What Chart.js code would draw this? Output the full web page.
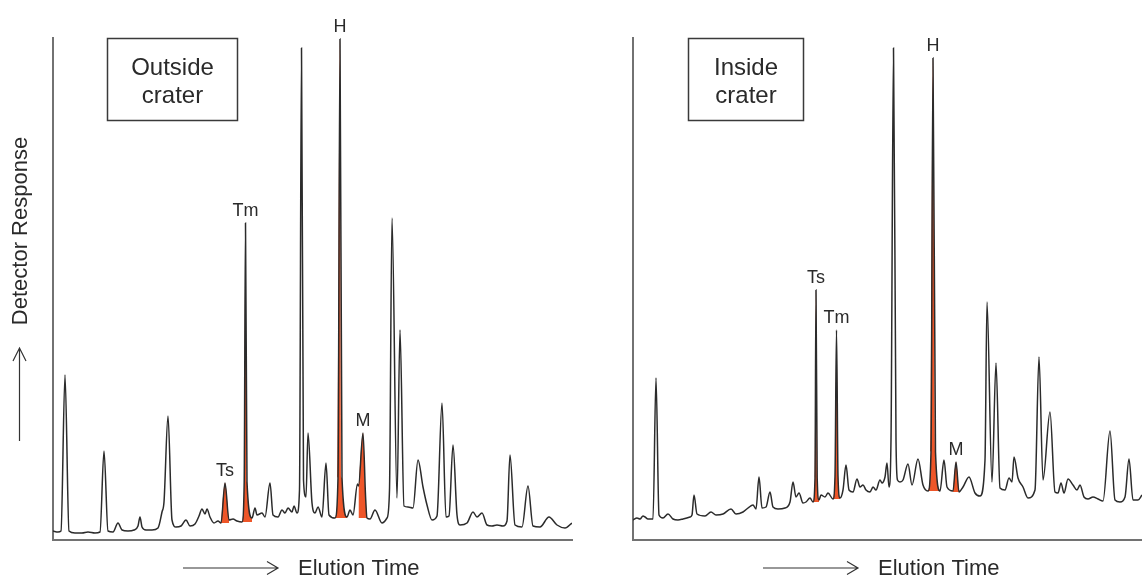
<!DOCTYPE html>
<html>
<head>
<meta charset="utf-8">
<script src="https://cdn.jsdelivr.net/npm/chart.js@4.4.0/dist/chart.umd.min.js"></script>
<style>
body { margin: 0; background: #fff; }
#wrap { position: relative; width: 1142px; height: 578px; overflow: hidden; }
canvas { position: absolute; top: 0; }
#outside { left: 0; }
#inside { left: 600px; }
</style>
</head>
<body>
<div id="wrap">
<canvas id="outside" width="600" height="578"></canvas>
<canvas id="inside" width="542" height="578"></canvas>
</div>
<script>
// trace (arbitrary time / response units)
var outsideTime = [0, 5, 8, 12, 16, 22, 29, 35, 42, 47, 51, 55, 60, 65, 69, 75, 81, 85, 87, 89,
    93, 99, 105, 109, 111, 115, 119, 123, 128, 133, 137, 142, 146, 149, 152, 154, 157, 161, 165, 168,
    172, 176, 180, 184, 189, 191.2, 192.5, 194, 199, 202, 204, 209, 212, 217, 220, 225, 229, 232, 235, 239,
    241, 244, 246.5, 248.5, 250.5, 253, 255, 259, 262, 265, 269, 273, 276, 282, 285, 287, 289, 294, 297, 300,
    304.5, 305.5, 310, 312.5, 314, 317, 322, 329, 334, 336.5, 339, 344, 347, 351, 355, 360, 365, 370, 374, 379,
    384, 389, 393, 396, 400, 404, 407, 414, 420, 424, 429, 434, 439, 444, 450, 454, 457, 462, 469, 475,
    480, 487, 496, 504, 512, 519];
var outsideSignal = [9, 8, 9, 165, 9, 7, 7, 8, 7, 8, 89, 9, 8, 17, 10, 9, 10, 14, 23, 13,
    10, 10, 12, 28, 38, 124, 20, 13, 14, 20, 14, 16, 24, 31, 26, 31, 23, 17, 19, 17,
    57, 20, 21, 19, 18, 58, 317, 58, 22, 32, 25, 27, 23, 57, 25, 23, 30, 27, 32, 28,
    34, 27, 50, 492, 60, 43, 107, 37, 27, 33, 23, 77, 25, 22, 62, 501, 62, 23, 30, 25,
    56, 54, 107, 45, 22, 21, 30, 17, 22, 50, 322, 42, 210, 34, 33, 32, 80, 53, 35, 20,
    24, 137, 23, 24, 95, 25, 15, 17, 28, 23, 27, 15, 14, 15, 14, 19, 85, 15, 13, 54,
    14, 13, 23, 15, 12, 17];

var insideTime = [0, 4, 7, 10, 12, 15, 20, 23, 26, 30, 35, 40, 45, 50, 57, 59, 61, 64, 72, 78,
    83, 90, 98, 103, 110, 115, 120, 123, 126, 129, 133, 137, 140, 145, 152, 157, 160, 163, 166, 170,
    173, 177, 180, 182, 183, 184.2, 186, 188, 192, 195, 200, 202, 203.5, 205, 207, 210, 213, 216, 220, 224,
    227, 230, 233, 237, 240, 243, 247, 249, 252, 254, 256, 258, 260.5, 263, 264.5, 267, 270, 275, 279, 285,
    290, 295, 298, 300, 302.5, 307, 311, 314, 320, 323, 326, 330, 336, 342, 347, 352, 354, 359, 363, 367,
    372, 376, 379, 381, 385, 390, 395, 402, 406, 410, 417, 422, 425, 428, 431, 435, 440, 444, 447, 451,
    455, 460, 465, 470, 477, 482, 487, 492, 496, 500, 505, 509];
var insideSignal = [20, 22, 21, 24, 23, 21, 21, 162, 25, 22, 26, 21, 20, 21, 23, 25, 45, 26, 24, 28,
    25, 26, 31, 26, 28, 32, 35, 31, 63, 32, 33, 48, 33, 31, 32, 38, 58, 43, 47, 37,
    38, 42, 38, 62, 250, 62, 40, 45, 43, 47, 41, 64, 210, 64, 42, 50, 75, 50, 48, 61,
    53, 55, 50, 48, 53, 50, 60, 57, 63, 77, 53, 100, 492, 100, 60, 58, 60, 76, 55, 81,
    55, 49, 88, 482, 88, 49, 80, 53, 49, 78, 48, 53, 63, 47, 44, 80, 238, 58, 177, 52,
    50, 62, 58, 83, 62, 53, 42, 50, 183, 60, 128, 48, 47, 57, 47, 61, 55, 50, 55, 43,
    41, 43, 41, 39, 109, 40, 38, 43, 81, 40, 40, 45];

// marked biomarker peaks: name and time window of the shaded area
var peakNames = ["Ts", "Tm", "H", "M"];
var outsidePeakStart = [168, 189, 282, 305.5];
var outsidePeakEnd = [176, 199, 294, 314];
var insidePeakStart = [180, 200, 295, 320];
var insidePeakEnd = [186, 207, 307, 326];

var fontFamily = '"Liberation Sans", Arial, Helvetica, sans-serif';
var traceColor = '#2b2b2b';
var peakColor = '#ee5629';
var axisColor = '#727272';

function toPoints(time, signal) {
    var pts = [];
    for (var i = 0; i < time.length; i++) {
        pts.push({x: time[i], y: signal[i]});
    }
    return pts;
}

function peakDatasets(time, signal, starts, ends) {
    var sets = [];
    for (var p = 0; p < peakNames.length; p++) {
        var pts = [];
        for (var i = 0; i < time.length; i++) {
            if (time[i] >= starts[p] && time[i] <= ends[p]) pts.push({x: time[i], y: signal[i]});
        }
        var base = Math.min(pts[0].y, pts[pts.length - 1].y);
        sets.push({
            label: peakNames[p],
            peakName: peakNames[p],
            data: pts,
            borderWidth: 0,
            borderColor: 'rgba(0,0,0,0)',
            backgroundColor: peakColor,
            pointRadius: 0,
            cubicInterpolationMode: 'monotone',
            fill: {target: {value: base}}
        });
    }
    return sets;
}

function drawArrowRight(ctx, x1, x2, y) {
    ctx.beginPath();
    ctx.moveTo(x1, y);
    ctx.lineTo(x2, y);
    ctx.moveTo(x2 - 11, y - 6.5);
    ctx.lineTo(x2, y);
    ctx.lineTo(x2 - 11, y + 6.5);
    ctx.stroke();
}

function decorPlugin(panel) {
    return {
        id: 'decor',
        afterDatasetsDraw: function(chart) {
            var ctx = chart.ctx;
            ctx.save();
            ctx.fillStyle = '#2a2a2a';
            ctx.font = '18px ' + fontFamily;
            ctx.textAlign = 'center';
            ctx.textBaseline = 'alphabetic';
            chart.data.datasets.forEach(function(ds) {
                if (!ds.peakName) return;
                var top = ds.data[0];
                ds.data.forEach(function(pt) { if (pt.y > top.y) top = pt; });
                var px = chart.scales.x.getPixelForValue(top.x);
                var py = chart.scales.y.getPixelForValue(top.y);
                ctx.fillText(ds.peakName, px, py - 7);
            });
            ctx.restore();
        },
        afterDraw: function(chart) {
            var ctx = chart.ctx;
            ctx.save();
            // sample box
            ctx.strokeStyle = '#3a3a3a';
            ctx.lineWidth = 1.5;
            ctx.strokeRect(panel.box[0], panel.box[1], panel.box[2], panel.box[3]);
            ctx.fillStyle = '#2a2a2a';
            ctx.font = '24px ' + fontFamily;
            ctx.textAlign = 'center';
            var cx = panel.box[0] + panel.box[2] / 2;
            ctx.fillText(panel.title[0], cx, 75);
            ctx.fillText(panel.title[1], cx, 103);

            // elution time arrow
            ctx.strokeStyle = '#333';
            ctx.lineWidth = 1.2;
            drawArrowRight(ctx, panel.arrowX, panel.arrowX + 95, 568);
            ctx.font = '22px ' + fontFamily;
            ctx.textAlign = 'left';
            ctx.fillText('Elution Time', panel.arrowX + 115, 575);

            if (panel.yTitle) {
                ctx.save();
                ctx.translate(27, 231);
                ctx.rotate(-Math.PI / 2);
                ctx.textAlign = 'center';
                ctx.fillText('Detector Response', 0, 0);
                ctx.restore();
                ctx.beginPath();
                ctx.moveTo(19.5, 441);
                ctx.lineTo(19.5, 348);
                ctx.moveTo(13, 361);
                ctx.lineTo(19.5, 348);
                ctx.lineTo(26, 361);
                ctx.stroke();
            }
            ctx.restore();
        }
    };
}

function makeChart(canvasId, time, signal, starts, ends, xMax, padding, panel) {
    var datasets = [{
        label: 'trace',
        data: toPoints(time, signal),
        borderColor: traceColor,
        borderWidth: 1.5,
        pointRadius: 0,
        fill: false,
        cubicInterpolationMode: 'monotone'
    }].concat(peakDatasets(time, signal, starts, ends));

    var axis = {
        type: 'linear',
        grid: {display: false, drawTicks: false},
        ticks: {display: false},
        border: {display: true, color: axisColor, width: 2}
    };

    return new Chart(document.getElementById(canvasId), {
        type: 'line',
        data: {datasets: datasets},
        options: {
            responsive: false,
            animation: false,
            devicePixelRatio: 1,
            events: [],
            layout: {autoPadding: false, padding: padding},
            plugins: {legend: {display: false}, tooltip: {enabled: false}},
            scales: {
                x: Object.assign({}, axis, {min: 0, max: xMax}),
                y: Object.assign({}, axis, {min: 0, max: 502})
            }
        },
        plugins: [decorPlugin(panel)]
    });
}

makeChart('outside', outsideTime, outsideSignal, outsidePeakStart, outsidePeakEnd, 519,
    {left: 53, top: 38, right: 28, bottom: 38},
    {box: [107.5, 38.5, 130, 82], title: ['Outside', 'crater'], arrowX: 183, yTitle: true});

makeChart('inside', insideTime, insideSignal, insidePeakStart, insidePeakEnd, 509,
    {left: 33, top: 38, right: 0, bottom: 38},
    {box: [88.5, 38.5, 115, 82], title: ['Inside', 'crater'], arrowX: 163, yTitle: false});
</script>
</body>
</html>
